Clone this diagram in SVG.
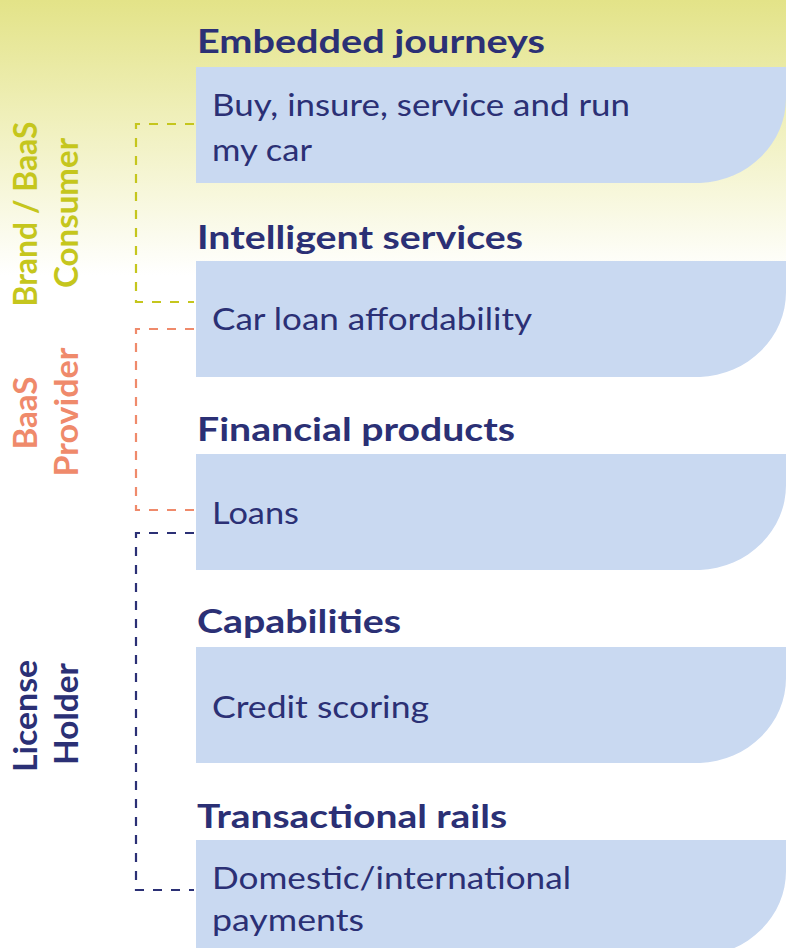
<svg xmlns="http://www.w3.org/2000/svg" width="786" height="948" viewBox="0 0 786 948">
  <defs>
    <linearGradient id="bg" x1="0" y1="0" x2="0" y2="1" gradientUnits="objectBoundingBox">
      <stop offset="0" stop-color="#e3e388"/>
      <stop offset="0.45" stop-color="#f0f0bd"/>
      <stop offset="1" stop-color="#ffffff"/>
    </linearGradient>
    <!-- layer panel: flat top, rounded lower-right corner -->
    <path id="panel" d="M0,0 H590 V31 A90 85 0 0 1 504 116 H0 Z"/>
  </defs>
  <style>
    .panel { fill: #c9d9f1; }
    .head { font-family: Lato, "Open Sans", sans-serif; font-weight: 700; font-size: 33px; fill: #2b3075; }
    .body { font-family: Lato, "Open Sans", sans-serif; font-weight: 400; font-size: 31px; fill: #2b3075; }
    .role { font-family: Lato, "Open Sans", sans-serif; font-weight: 700; font-size: 33px; text-anchor: middle; }
    .dash { fill: none; stroke-width: 2.2; stroke-dasharray: 9 9; }
  </style>

  <rect x="0" y="0" width="786" height="948" fill="#ffffff"/>
  <rect x="0" y="0" width="786" height="275" fill="url(#bg)"/>

  <g id="embedded-journeys">
    <text class="head" x="197" y="53" textLength="348" lengthAdjust="spacingAndGlyphs">Embedded journeys</text>
    <use href="#panel" class="panel" x="196" y="67"/>
    <text class="body" x="212" y="116" textLength="418" lengthAdjust="spacingAndGlyphs">Buy, insure, service and run</text>
    <text class="body" x="212" y="161" textLength="100" lengthAdjust="spacingAndGlyphs">my car</text>
  </g>

  <g id="intelligent-services">
    <text class="head" x="197" y="249" textLength="326" lengthAdjust="spacingAndGlyphs">Intelligent services</text>
    <use href="#panel" class="panel" x="196" y="261"/>
    <text class="body" x="212" y="330" textLength="320" lengthAdjust="spacingAndGlyphs">Car loan affordability</text>
  </g>

  <g id="financial-products">
    <text class="head" x="197" y="441" textLength="318" lengthAdjust="spacingAndGlyphs">Financial products</text>
    <use href="#panel" class="panel" x="196" y="454"/>
    <text class="body" x="212" y="524" textLength="87" lengthAdjust="spacingAndGlyphs">Loans</text>
  </g>

  <g id="capabilities">
    <text class="head" x="197" y="633" textLength="204" lengthAdjust="spacingAndGlyphs">Capabilities</text>
    <use href="#panel" class="panel" x="196" y="647"/>
    <text class="body" x="212" y="718" textLength="217" lengthAdjust="spacingAndGlyphs">Credit scoring</text>
  </g>

  <g id="transactional-rails">
    <text class="head" x="197" y="828" textLength="310" lengthAdjust="spacingAndGlyphs">Transactional rails</text>
    <use href="#panel" class="panel" x="196" y="840"/>
    <text class="body" x="212" y="889" textLength="359" lengthAdjust="spacingAndGlyphs">Domestic/international</text>
    <text class="body" x="212" y="931" textLength="152" lengthAdjust="spacingAndGlyphs">payments</text>
  </g>

  <g id="role-consumer" fill="#c5c61d">
    <text class="role" transform="translate(37 214) rotate(-90)" textLength="185" lengthAdjust="spacingAndGlyphs">Brand / BaaS</text>
    <text class="role" transform="translate(78 213) rotate(-90)" textLength="150" lengthAdjust="spacingAndGlyphs">Consumer</text>
  </g>

  <g id="role-provider" fill="#ef8a6b">
    <text class="role" transform="translate(37 413) rotate(-90)" textLength="73" lengthAdjust="spacingAndGlyphs">BaaS</text>
    <text class="role" transform="translate(78 412) rotate(-90)" textLength="129" lengthAdjust="spacingAndGlyphs">Provider</text>
  </g>

  <g id="role-license" fill="#2b3075">
    <text class="role" transform="translate(37 716) rotate(-90)" textLength="112" lengthAdjust="spacingAndGlyphs">License</text>
    <text class="role" transform="translate(78 714) rotate(-90)" textLength="102" lengthAdjust="spacingAndGlyphs">Holder</text>
  </g>

  <g id="connectors">
    <path class="dash" stroke="#c5c61d" d="M194,124 H136 V302 H194"/>
    <path class="dash" stroke="#ef8a6b" d="M194,329 H136 V510 H194"/>
    <path class="dash" stroke="#2b3075" d="M194,533 H136 V890 H194"/>
  </g>
</svg>
